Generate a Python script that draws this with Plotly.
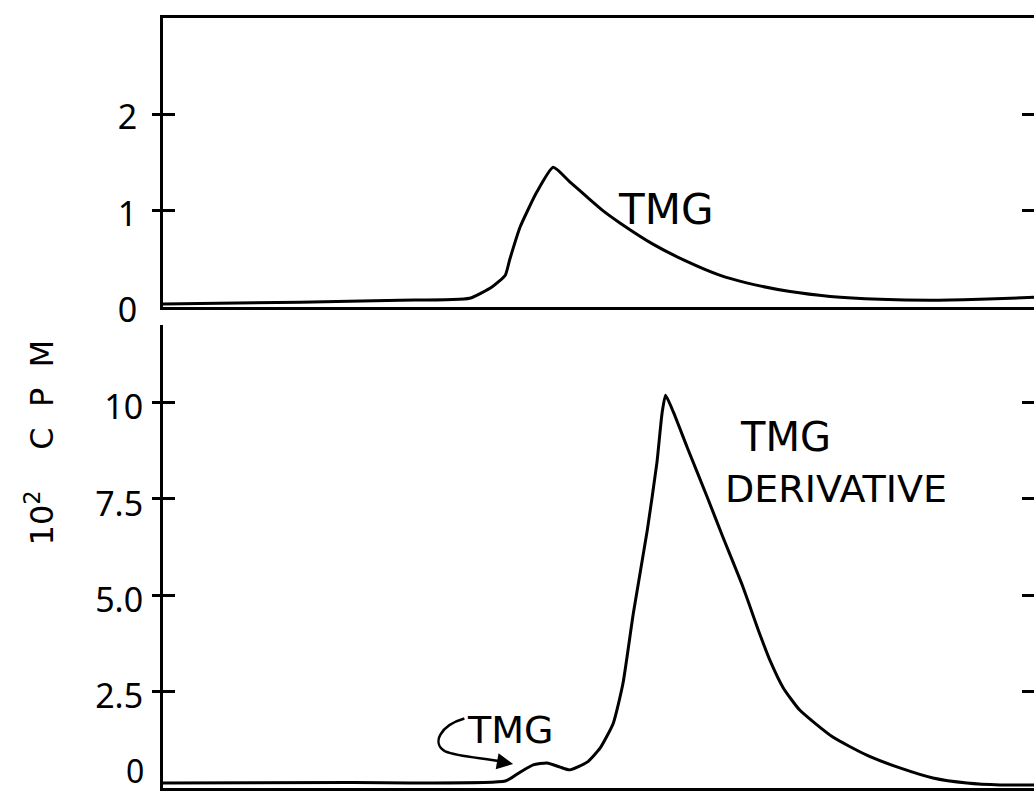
import plotly.graph_objects as go

# ---- data (x in arbitrary fraction units 0-100) ----
tmg_x = [0.0, 15.7, 27.2, 35.2, 37.8, 39.3, 39.8, 41.0, 42.9, 44.8, 46.7, 48.7,
         50.5, 52.5, 56.3, 60.2, 63.9, 67.0, 72.0, 76.6, 82.3, 88.1, 93.8, 100.0]
tmg_y = [0.03, 0.05, 0.07, 0.09, 0.21, 0.33, 0.49, 0.83, 1.19, 1.45, 1.30, 1.14,
         1.00, 0.87, 0.65, 0.47, 0.33, 0.25, 0.16, 0.11, 0.08, 0.07, 0.08, 0.10]

der_x = [0.0, 21.5, 39.3, 41.0, 42.5, 44.1, 45.6, 46.7, 48.7, 50.2, 51.7, 52.8,
         54.0, 55.6, 56.7, 57.3, 57.7, 58.6, 60.2, 62.5, 64.2, 66.5, 68.5, 69.7,
         71.2, 73.1, 76.9, 80.8, 84.6, 88.4, 92.3, 96.1, 100.0]
der_y = [0.13, 0.14, 0.18, 0.41, 0.60, 0.65, 0.54, 0.47, 0.67, 1.04, 1.68, 2.7,
         4.53, 6.68, 8.42, 9.72, 10.18, 9.74, 8.82, 7.53, 6.55, 5.26, 4.0, 3.3,
         2.6, 2.02, 1.32, 0.85, 0.52, 0.26, 0.13, 0.08, 0.08]

top_tickvals = [0, 1, 2]
top_ticktext = ["0", "1", "2"]
top_tickmarks = [1, 2]
bot_tickvals = [2.5, 5, 7.5, 10]
bot_ticktext = ["2.5", "5.0", "7.5", "10"]
bot_tickmarks = [2.5, 5, 7.5, 10]

FONT = "DejaVu Sans"
TFONT = "Noto Sans"
LW = 3

fig = go.Figure()
line = dict(color="black", width=LW, shape="spline", smoothing=0.5)
fig.add_trace(go.Scatter(x=tmg_x, y=tmg_y, mode="lines", line=line,
                         xaxis="x2", yaxis="y2", showlegend=False, hoverinfo="skip"))
fig.add_trace(go.Scatter(x=der_x, y=der_y, mode="lines", line=line,
                         xaxis="x", yaxis="y", showlegend=False, hoverinfo="skip"))
# invisible traces so that overlay tick axes are drawn
ghost = dict(mode="lines", line=dict(width=0), showlegend=False, hoverinfo="skip")
for ya in ["y3", "y4", "y5"]:
    fig.add_trace(go.Scatter(x=der_x, y=der_y, xaxis="x", yaxis=ya, **ghost))
for ya in ["y6", "y7", "y8"]:
    fig.add_trace(go.Scatter(x=tmg_x, y=tmg_y, xaxis="x2", yaxis=ya, **ghost))

BOT = [0, 0.6013]
TOP = [0.6247, 1.0]
BR = [0, 12]
TR = [0, 3]
tickfont = dict(family=TFONT, size=34, color="black")

def mark_axis(dom, rng, vals, side, ticks, overlay, length):
    return dict(domain=dom, range=rng, overlaying=overlay, side=side, anchor=("x" if overlay == "y" else "x2"),
                tickvals=vals, ticks=ticks, ticklen=length, tickwidth=LW, tickcolor="black",
                showticklabels=False, showline=False, showgrid=False, zeroline=False,
                fixedrange=True, automargin=False)

fig.update_layout(
    template="none",
    width=1034, height=792,
    margin=dict(l=163, r=0, t=18, b=4, pad=0, autoexpand=False),
    paper_bgcolor="white", plot_bgcolor="white",
    xaxis=dict(domain=[0, 1], range=[0, 100], anchor="y", showline=True, linewidth=LW,
               linecolor="black", ticks="", showticklabels=False, showgrid=False,
               zeroline=False, automargin=False),
    xaxis2=dict(domain=[0, 1], range=[0, 100], anchor="y2", showline=True, linewidth=LW,
                linecolor="black", mirror=True, ticks="", showticklabels=False,
                showgrid=False, zeroline=False, automargin=False),
    yaxis=dict(domain=BOT, range=BR, anchor="x", showline=True, linewidth=LW, linecolor="black",
               tickvals=bot_tickvals, ticktext=bot_ticktext, ticks="", ticklabelstandoff=10,
               ticklabelshift=5, tickfont=tickfont, showgrid=False, zeroline=False,
               automargin=False),
    yaxis2=dict(domain=TOP, range=TR, anchor="x2", showline=True, linewidth=LW, linecolor="black",
                tickvals=top_tickvals, ticktext=top_ticktext, ticks="", ticklabelstandoff=16,
                ticklabelshift=3, tickfont=tickfont, showgrid=False, zeroline=False,
                automargin=False),
    yaxis3=mark_axis(BOT, BR, bot_tickmarks, "left", "outside", "y", 10),
    yaxis4=mark_axis(BOT, BR, bot_tickmarks, "left", "inside", "y", 12),
    yaxis5=mark_axis(BOT, BR, bot_tickmarks, "right", "inside", "y", 12),
    yaxis6=mark_axis(TOP, TR, top_tickmarks, "left", "outside", "y2", 10),
    yaxis7=mark_axis(TOP, TR, top_tickmarks, "left", "inside", "y2", 12),
    yaxis8=mark_axis(TOP, TR, top_tickmarks, "right", "inside", "y2", 12),
)

# bottom-panel zero label (kept inside the page)
fig.add_annotation(x=-0.019, y=0.45, xref="paper", yref="y", text="0", showarrow=False,
                   xanchor="right", yanchor="middle", font=dict(family=TFONT, size=32, color="black"))

fig.add_annotation(x=57.7, y=1.01, xref="x2", yref="y2", text="TMG", showarrow=False,
                   font=dict(family=FONT, size=42, color="black"))
fig.add_annotation(x=66.0, y=9.1, xref="x", yref="y", text="TMG", showarrow=False,
                   font=dict(family=FONT, size=40, color="black"), xanchor="left")
fig.add_annotation(x=64.3, y=7.75, xref="x", yref="y", text="DERIVATIVE", showarrow=False,
                   font=dict(family=FONT, size=38, color="black"), xanchor="left")
fig.add_annotation(x=39.8, y=1.5, xref="x", yref="y", text="TMG", showarrow=False,
                   font=dict(family=FONT, size=38, color="black"))
# curled pointer from the small TMG label
fig.add_shape(type="path", xref="x", yref="y",
              path="M 34.6,1.80 C 31.8,1.62 30.8,1.15 32.4,0.95 C 34.0,0.80 37.0,0.78 39.0,0.68",
              line=dict(color="black", width=2.5))
fig.add_annotation(x=40.2, y=0.62, ax=38.2, ay=0.70, xref="x", yref="y", axref="x", ayref="y",
                   text="", showarrow=True, arrowhead=2, arrowsize=1.3, arrowwidth=2.5,
                   arrowcolor="black")
# y-axis title
NB = "\u00a0"
fig.add_annotation(x=-0.141, y=0.449, xref="paper", yref="paper", textangle=-90,
                   xanchor="center", yanchor="middle",
                   text="10<sup>2</sup>" + NB * 4 + "C" + NB * 2 + "P" + NB * 2 + "M",
                   showarrow=False, font=dict(family=FONT, size=32, color="black"))

fig.write_html("out.html")
